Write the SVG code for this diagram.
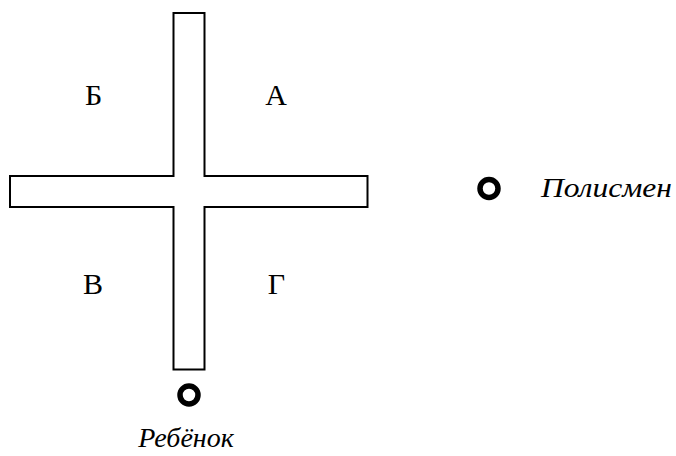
<svg xmlns="http://www.w3.org/2000/svg" width="676" height="456" viewBox="0 0 676 456">
<style>
.road{fill:#fff;stroke:#000;stroke-width:2}
.lbl{font-family:"Liberation Serif",serif;font-size:30px;fill:#000}
.it{font-style:italic;font-size:28px}
.pt{fill:none;stroke:#000;stroke-width:5.5}
</style>
<rect width="676" height="456" fill="#fff"/>
<g id="cross">
<path class="road" d="M173.5,13 H204.5 V176 H367.5 V207 H204.5 V369.5 H173.5 V207 H10 V176 H173.5 Z"/>
</g>
<g id="labels">
<text class="lbl" x="93.5" y="105" text-anchor="middle">Б</text>
<text class="lbl" x="276" y="105" text-anchor="middle">А</text>
<text class="lbl" x="93" y="294" text-anchor="middle">В</text>
<text class="lbl" x="276.5" y="294" text-anchor="middle">Г</text>
</g>
<g id="policeman">
<circle class="pt" cx="489" cy="188.5" r="9"/>
<text class="lbl it" x="541" y="197" textLength="131" lengthAdjust="spacingAndGlyphs">Полисмен</text>
</g>
<g id="child">
<circle class="pt" cx="189" cy="395" r="9"/>
<text class="lbl it" x="186" y="447" text-anchor="middle">Ребёнок</text>
</g>
</svg>
